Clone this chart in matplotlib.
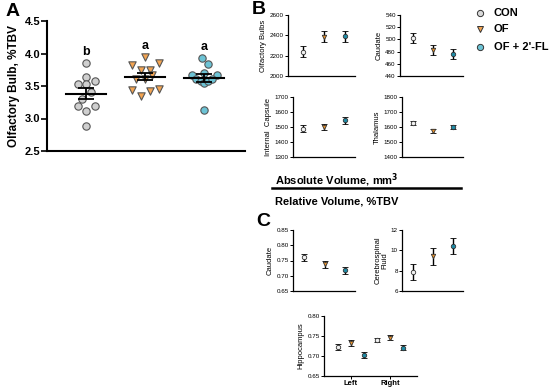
import numpy as np
import matplotlib
matplotlib.use("Agg")
import matplotlib.pyplot as plt

plt.rcParams['font.family'] = ['Liberation Sans', 'DejaVu Sans']

W, H = 550, 389

groups = ['CON', 'OF', "OF + 2'-FL"]

# panel A: individual olfactory bulb values, %TBV
ob_con = [3.85, 3.64, 3.53, 3.53, 3.58, 3.41, 3.30, 3.19, 3.19, 3.12, 2.88]
ob_of = [3.95, 3.83, 3.85, 3.74, 3.75, 3.61, 3.61, 3.67, 3.44, 3.35, 3.43, 3.46]
ob_fl = [3.93, 3.84, 3.70, 3.67, 3.67, 3.61, 3.57, 3.54, 3.58, 3.61, 3.13]
ob_jitter_con = [0, 0, -0.35, 0, 0.4, 0.2, -0.2, -0.35, 0.4, 0, 0]
ob_jitter_of = [0, -0.6, 0.6, -0.2, 0.2, -0.4, 0, 0.3, -0.6, -0.2, 0.2, 0.6]
ob_jitter_fl = [-0.1, 0.15, 0, -0.55, 0.55, -0.35, -0.15, 0, 0.17, 0.33, 0]
ob_letters = ['b', 'a', 'a']

# panel B: absolute volume, mm3 (mean, sem)
abs_olf_mean = [2240, 2385, 2390]
abs_olf_sem = [55, 55, 55]
abs_caud_mean = [502, 483, 476]
abs_caud_sem = [8, 8, 8]
abs_ic_mean = [1490, 1500, 1545]
abs_ic_sem = [25, 22, 25]
abs_thal_mean = [1625, 1575, 1600]
abs_thal_sem = [14, 15, 15]

# panel C: relative volume, %TBV (mean, sem)
rel_caud_mean = [0.760, 0.738, 0.718]
rel_caud_sem = [0.011, 0.012, 0.012]
rel_csf_mean = [7.9, 9.4, 10.4]
rel_csf_sem = [0.8, 0.8, 0.8]
hippo_sides = ['Left', 'Right']
hippo_mean = [[0.722, 0.740], [0.732, 0.746], [0.703, 0.721]]
hippo_sem = [[0.007, 0.006], [0.008, 0.007], [0.008, 0.007]]

a_face = ['#cfcfcf', '#f3a451', '#6cc3d5']
b_face = ['#f2f2f2', '#e8922c', '#1f8ba6']
markers = ['o', 'v', 'o']


def px_axes(fig, left, right, top, bottom):
    return fig.add_axes([left / W, 1 - bottom / H, (right - left) / W, (bottom - top) / H])


def style(ax, fs=4.5, lw=0.9):
    ax.spines['top'].set_visible(False)
    ax.spines['right'].set_visible(False)
    for s in ['left', 'bottom']:
        ax.spines[s].set_linewidth(lw)
    ax.tick_params(labelsize=fs, width=lw * 0.8, length=2, pad=1)


fig = plt.figure(figsize=(W / 100, H / 100), dpi=100)

# ---- panel A
ax = px_axes(fig, 47, 245, 21, 151)
style(ax, fs=8, lw=1.5)
for i, (vals, jit) in enumerate([(ob_con, ob_jitter_con), (ob_of, ob_jitter_of), (ob_fl, ob_jitter_fl)]):
    xs = i + np.array(jit) * 0.38
    ax.scatter(xs, vals, s=28, marker=markers[i], facecolor=a_face[i], edgecolor='#555555',
               linewidth=0.8, zorder=2)
    m = np.mean(vals)
    se = np.std(vals, ddof=1) / np.sqrt(len(vals))
    ax.plot([i - 0.34, i + 0.34], [m, m], color='black', lw=1.5, zorder=3)
    ax.errorbar(i, m, yerr=se, color='black', lw=1.3, capsize=6, capthick=1.3, zorder=3)
    ax.text(i, max(vals) + 0.08, ob_letters[i], ha='center', va='bottom', fontsize=9, fontweight='bold')
ax.set_xlim(-0.66, 2.69)
ax.set_ylim(2.5, 4.5)
ax.set_yticks([2.5, 3.0, 3.5, 4.0, 4.5])
ax.set_xticks([])
ax.tick_params(axis='y', length=4, width=1.2, labelsize=8)
for tl in ax.get_yticklabels():
    tl.set_fontweight('bold')
ax.set_ylabel('Olfactory Bulb, %TBV', fontsize=8.5, fontweight='bold', labelpad=3)
fig.text(6 / W, 1 - 11 / H, 'A', fontsize=14, fontweight='bold', va='center')


def mean_panel(ax, means, sems, ylim, yticks, ylabel, x0=0):
    style(ax)
    for i in range(3):
        ax.errorbar(i, means[i], yerr=sems[i], fmt=markers[i], color='black', ms=3.2,
                    mfc=b_face[i], mec='#333333', mew=0.6, lw=1.0, capsize=2, capthick=1.0)
    ax.set_xlim(x0, 2.5)
    ax.set_ylim(*ylim)
    ax.set_yticks(yticks)
    ax.set_xticks([])
    ax.set_ylabel(ylabel, fontsize=5.5, labelpad=2, linespacing=0.9)


# ---- panel B
ax = px_axes(fig, 288, 355, 15, 76)
mean_panel(ax, abs_olf_mean, abs_olf_sem, (2000, 2600), [2000, 2200, 2400, 2600], 'Olfactory Bulbs', -0.7)
ax = px_axes(fig, 400, 463, 15, 76)
mean_panel(ax, abs_caud_mean, abs_caud_sem, (440, 540), [440, 460, 480, 500, 520, 540], 'Caudate', -0.65)
ax = px_axes(fig, 293, 355, 97, 157)
mean_panel(ax, abs_ic_mean, abs_ic_sem, (1300, 1700), [1300, 1400, 1500, 1600, 1700], 'Internal  Capsule', -0.48)
ax = px_axes(fig, 402, 463, 97, 157)
mean_panel(ax, abs_thal_mean, abs_thal_sem, (1400, 1800), [1400, 1500, 1600, 1700, 1800], 'Thalamus', -0.55)
fig.text(252 / W, 1 - 10 / H, 'B', fontsize=14, fontweight='bold', va='center')

fig.text(275 / W, 1 - 180 / H, 'Absolute Volume, mm$^\\mathbf{3}$', fontsize=8, fontweight='bold', va='center')
fig.add_artist(plt.Line2D([272 / W, 461 / W], [1 - 188 / H, 1 - 188 / H], color='black', lw=1.8))
fig.text(275 / W, 1 - 202 / H, 'Relative Volume, %TBV', fontsize=8, fontweight='bold', va='center')

# ---- panel C
ax = px_axes(fig, 293, 355, 230, 291)
mean_panel(ax, rel_caud_mean, rel_caud_sem, (0.65, 0.85), [0.65, 0.70, 0.75, 0.80, 0.85], 'Caudate', -0.55)
ax.yaxis.set_major_formatter(matplotlib.ticker.FormatStrFormatter('%.2f'))
ax = px_axes(fig, 402, 463, 230, 291)
mean_panel(ax, rel_csf_mean, rel_csf_sem, (6, 12), [6, 8, 10, 12], 'Cerebrospinal\nFluid', -0.55)
fig.text(256 / W, 1 - 222 / H, 'C', fontsize=14, fontweight='bold', va='center')

ax = px_axes(fig, 324, 417, 316, 376)
style(ax)
offs = [-0.34, 0, 0.34]
for i in range(3):
    ax.errorbar(np.arange(2) + offs[i], hippo_mean[i], yerr=hippo_sem[i], fmt=markers[i],
                color='black', ms=3.2, mfc=b_face[i], mec='#333333', mew=0.6, lw=1.0,
                capsize=2, capthick=1.0)
ax.set_xlim(-0.69, 1.69)
ax.set_ylim(0.65, 0.80)
ax.set_yticks([0.65, 0.70, 0.75, 0.80])
ax.yaxis.set_major_formatter(matplotlib.ticker.FormatStrFormatter('%.2f'))
ax.set_xticks([0, 1])
ax.set_xticklabels(hippo_sides, fontsize=5.5, fontweight='bold')
ax.set_ylabel('Hippocampus', fontsize=5.5, labelpad=2)

# ---- legend
leg_y = [13, 29, 47]
for i in range(3):
    fig.add_artist(plt.Line2D([480 / W], [1 - leg_y[i] / H], marker=markers[i], ms=4.5,
                              mfc=a_face[i] if i else '#d9d9d9', mec='#333333', mew=0.7, ls=''))
    fig.text(494 / W, 1 - leg_y[i] / H, groups[i], fontsize=8, fontweight='bold', va='center')

fig.savefig('out.png', dpi=100)
